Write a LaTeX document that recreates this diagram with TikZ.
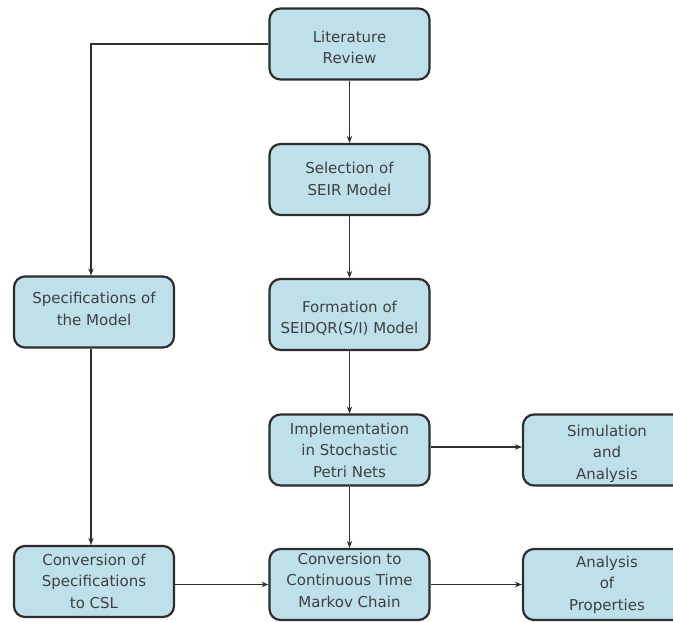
\documentclass[tikz,border=0pt]{standalone}
\usepackage{fontspec}
\setmainfont{DejaVu Sans}
\usetikzlibrary{arrows.meta}
\definecolor{boxfill}{HTML}{BDE0EA}
\definecolor{boxline}{HTML}{2E2E2E}
\definecolor{txt}{HTML}{404040}
\newcommand{\bxt}[2]{\raisebox{#1}[\height][\depth]{\begin{tabular}{@{}c@{}}#2\end{tabular}}}
\tikzset{
  stepbox/.style={draw=boxline, line width=2.2pt, fill=boxfill, rounded corners=11pt,
    minimum width=160pt, minimum height=71pt, align=center, text=txt,
    font=\fontsize{15}{21.5}\selectfont, inner sep=2pt},
  conn/.style={draw=boxline, line width=1.1pt, -{Stealth[length=7pt,width=5.5pt]}}
}
\begin{document}
\begin{tikzpicture}[x=1pt,y=-1pt]
\useasboundingbox (0,0) rectangle (673,622);
\begin{scope}
\clip (0,0) rectangle (673,622);
\node[stepbox] (lr) at (349.5,44) {\bxt{-4.5pt}{Literature\\Review}};
\node[stepbox] (seir) at (349.5,179.5) {\bxt{-0.5pt}{Selection of\\SEIR Model}};
\node[stepbox] (form) at (349.5,314.5) {\bxt{-4pt}{Formation of\\SEIDQR(S/I) Model}};
\node[stepbox] (impl) at (349.5,450) {\bxt{-1.5pt}{Implementation\\in Stochastic\\Petri Nets}};
\node[stepbox] (ctmc) at (349.5,584.5) {\bxt{3pt}{Conversion to\\Continuous Time\\Markov Chain}};
\node[stepbox] (spec) at (94,312) {\bxt{2pt}{Specifications of\\the Model}};
\node[stepbox] (csl) at (94,581.5) {\bxt{-1pt}{Conversion of\\Specifications\\to CSL}};
\node[stepbox, minimum width=168pt] (sim) at (607,450) {\bxt{-3.5pt}{Simulation\\and\\Analysis}};
\node[stepbox, minimum width=168pt] (aop) at (607,584.5) {\bxt{0pt}{Analysis\\of\\Properties}};
\end{scope}
\coordinate (bend) at (91,44);
\draw[conn] (lr.west) -- (bend) -- (spec.north -| bend);
\draw[conn] (lr) -- (seir);
\draw[conn] (seir) -- (form);
\draw[conn] (form) -- (impl);
\draw[conn] (impl) -- (ctmc);
\draw[conn] (spec.south -| bend) -- (csl.north -| bend);
\draw[conn] (csl.east |- ctmc) -- (ctmc.west);
\draw[conn] ([yshift=3pt]impl.east) -- ([yshift=3pt]sim.west);
\draw[conn] (ctmc) -- (aop);
\end{tikzpicture}
\end{document}
